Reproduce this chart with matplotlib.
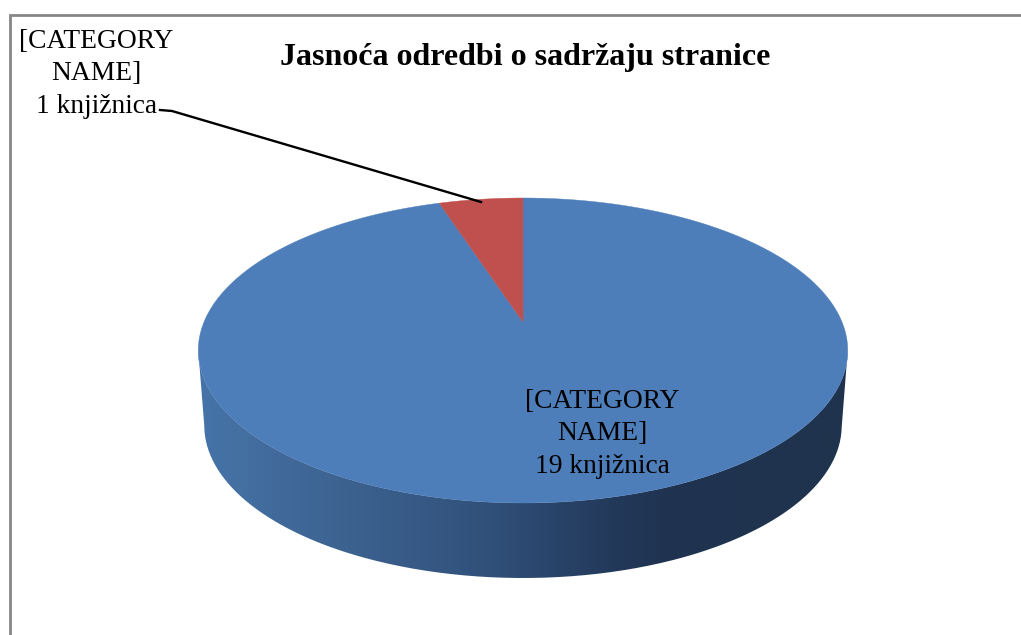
import numpy as np
import matplotlib
matplotlib.use("Agg")
import matplotlib.pyplot as plt
from matplotlib.colors import LinearSegmentedColormap
from matplotlib.patches import PathPatch
from matplotlib.path import Path

# --- data ---
title = "Jasnoća odredbi o sadržaju stranice"
categories = ["[CATEGORY\nNAME]", "[CATEGORY\nNAME]"]
values = [19, 1]
units = ["19 knjižnica", "1 knjižnica"]
colors = ["#4E7EBA", "#C0504D"]

W, H = 1021, 635
plt.rcParams["font.family"] = ["Liberation Serif", "DejaVu Serif"]
fig = plt.figure(figsize=(W / 100, H / 100), dpi=100)
ax = fig.add_axes([0, 0, 1, 1])
ax.set_xlim(0, W)
ax.set_ylim(H, 0)
ax.axis("off")

# Projection of the unit disc onto the tilted pie top
CX, CY_RIM, K = 523.0, 350.0, 0.1869
A, B, C = 152.4, 28.0, 319.0
DEPTH = 75.0


def project(x, y):
    d = 1 + K * y
    return CX + C * x / d, CY_RIM - (A * y + B) / d


# Side wall (gradient clipped to the band under the front rim)
u = np.linspace(0, 2 * np.pi, 720)
ox, oy = project(np.cos(u), np.sin(u))
cx_full = (ox.max() + ox.min()) / 2
rx = (ox.max() - ox.min()) / 2
ry = (oy.max() - oy.min()) / 2
cy_full = (oy.max() + oy.min()) / 2
th = np.linspace(np.pi, 0, 300)
top_x = cx_full + rx * np.cos(th)
top_y = cy_full + ry * np.sin(th)
bot_rx = rx - 6
bot_x = cx_full + bot_rx * np.cos(th)
bot_y = cy_full + DEPTH + ry * np.sin(th)
verts = np.vstack([np.column_stack([top_x, top_y]),
                   np.column_stack([bot_x[::-1], bot_y[::-1]]),
                   [[top_x[0], top_y[0]]]])
clip = PathPatch(Path(verts), transform=ax.transData, fc="none", ec="none")
ax.add_patch(clip)
cmap = LinearSegmentedColormap.from_list(
    "rim", [(0, "#4674A9"), (0.126, "#416A9A"), (0.28, "#3A5E8B"),
            (0.45, "#30507A"), (0.64, "#23395A"), (0.73, "#1F3350"),
            (1, "#1F334D")])
grad = np.linspace(0, 1, 512).reshape(1, -1)
im = ax.imshow(grad, cmap=cmap, aspect="auto", interpolation="bilinear",
               extent=(verts[:, 0].min(), verts[:, 0].max(),
                       verts[:, 1].max(), verts[:, 1].min()), zorder=1)
im.set_clip_path(clip)
ax.set_xlim(0, W)
ax.set_ylim(H, 0)

# Top face wedges: clockwise from twelve o'clock
fr = np.cumsum([0] + values) / sum(values)
for i, col in enumerate(colors):
    a = np.pi / 2 - 2 * np.pi * np.linspace(fr[i], fr[i + 1],
                                            max(3, int(400 * (fr[i + 1] - fr[i]))))
    xs = np.r_[0, np.cos(a), 0]
    ys = np.r_[0, np.sin(a), 0]
    px, py = project(xs, ys)
    ax.fill(px, py, color=col, lw=0.3, zorder=2)

# Frame
ax.plot([9.6, 9.6, W], [H, 15, 15], color="#868686", lw=2.0, zorder=0,
        solid_joinstyle="miter", solid_capstyle="butt")

# Leader line to the small slice
ax.plot([160, 172, 481], [110, 111, 202], color="black", lw=1.7, zorder=3,
        solid_joinstyle="round")

# Text
ax.text(525, 58, title, ha="center", va="center", fontsize=23,
        fontweight="bold", color="black", zorder=4)
LS = 1.42
ax.text(96.5, 74, categories[1] + "\n" + units[1], ha="center", va="center",
        fontsize=19.8, linespacing=LS, zorder=4)
ax.text(602, 434, categories[0] + "\n" + units[0], ha="center", va="center",
        fontsize=19.8, linespacing=LS, zorder=4)

fig.savefig("out.png", dpi=100, facecolor="white")
